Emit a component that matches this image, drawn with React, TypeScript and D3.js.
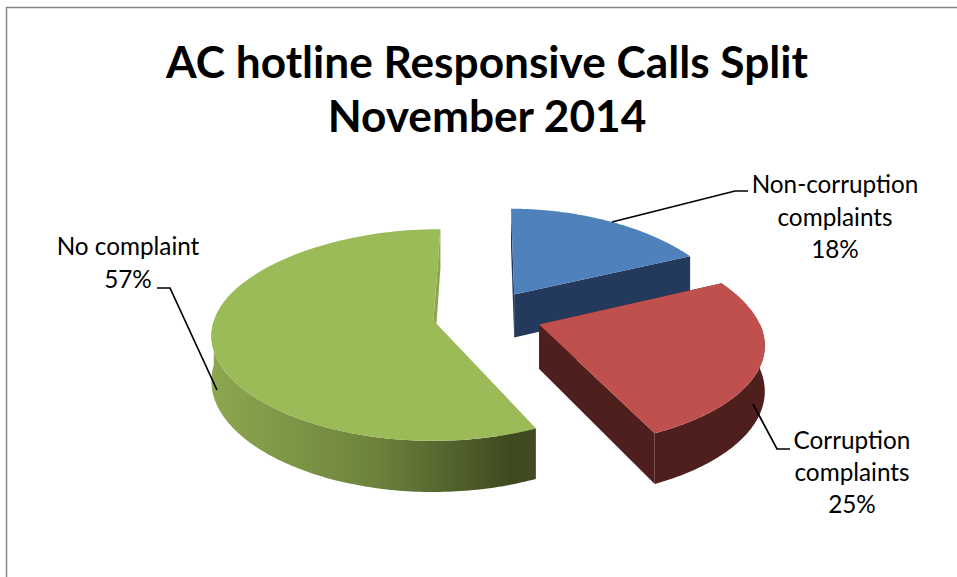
import React from "react";
import * as d3 from "d3";

// Call split for November 2014
const categories = ["Non-corruption complaints", "Corruption complaints", "No complaint"];
const shares = [18, 25, 57];
const topColors = ["#4f81bd", "#c0504d", "#9bbb59"];
const wallColors = ["#243a5c", "#4f1f1e", "#8ca64e"];
const titleLines = ["AC hotline Responsive Calls Split", "November 2014"];

// Camera and pie body
const W = 957;
const H = 577;
const FIRST_SLICE_DEG = 0.6;
const EXPLODE = 0.25;
const VANISH_X = 436.8;
const CENTRE_OFFSET_X = 50;
const BACK_DRIFT_X = 5;
const CENTRE_Y = 315.5;
const DEPTH = 44;
const DEPTH_DRAW_ORDER = [0, 2, 1];

const xScale = d3.scaleLinear().domain([-1, 1]).range([-218, 218]);
const yScale = d3.scaleLinear().domain([-1, 1]).range([102.5, -102.5]);

type Pt = [number, number];

// World point on the pie plane (x right, y away from viewer), z = 0 top, 1 bottom
function project(x: number, y: number, z: number): Pt {
  const wy = 1 + 0.133 * y;
  const wx = 1 + 0.15 * y + 0.03 * y * y;
  const back = Math.max(y, 0);
  return [
    VANISH_X + (CENTRE_OFFSET_X + xScale(x)) / wx + BACK_DRIFT_X * back * back,
    CENTRE_Y + (yScale(y) + DEPTH * z) / wy,
  ];
}

const pieLayout = d3
  .pie<number>()
  .sort(null)
  .startAngle((FIRST_SLICE_DEG * Math.PI) / 180)
  .endAngle(((FIRST_SLICE_DEG + 360) * Math.PI) / 180);

const toPath = d3.line<Pt>();

function sliceShapes(start: number, end: number) {
  const mid = (start + end) / 2;
  const ox = EXPLODE * Math.sin(mid);
  const oy = EXPLODE * Math.cos(mid);
  const rim = (from: number, to: number, z: number) =>
    d3.range(0, 121).map((i) => {
      const a = from + ((to - from) * i) / 120;
      return project(ox + Math.sin(a), oy + Math.cos(a), z);
    });
  const apexTop = project(ox, oy, 0);
  const apexBottom = project(ox, oy, 1);
  const topRim = rim(start, end, 0);
  const bottomRim = rim(start, end, 1);
  // Only the front half of the rim faces the viewer
  const frontFrom = Math.max(start, Math.PI / 2);
  const frontTo = Math.min(end, (3 * Math.PI) / 2);
  const outer =
    frontTo > frontFrom
      ? toPath([...rim(frontFrom, frontTo, 0), ...rim(frontFrom, frontTo, 1).reverse()])! + "Z"
      : null;
  return {
    top: toPath([apexTop, ...topRim])! + "Z",
    outer,
    startWall: toPath([apexTop, topRim[0], bottomRim[0], apexBottom])! + "Z",
    endWall: toPath([apexTop, topRim[120], bottomRim[120], apexBottom])! + "Z",
  };
}

// Label text and leader polylines
const labelLines = [
  { lines: ["Non-corruption", "complaints", "18%"], x: 835, y: 193, step: 32.5 },
  { lines: ["Corruption", "complaints", "25%"], x: 852, y: 449, step: 32 },
  { lines: ["No complaint", "57%"], x: 128, y: 255, step: 33 },
];
const leaders: Pt[][] = [
  [[612, 222], [735, 191], [748, 191]],
  [[753, 404], [777, 449], [790, 449]],
  [[217, 390], [170, 288], [157, 288]],
];

const FONT = "Lato, Carlito, sans-serif";

export default function App() {
  const arcs = pieLayout(shares);
  return (
    <svg
      width={W}
      height={H}
      viewBox={`0 0 ${W} ${H}`}
      style={{ position: "absolute", left: 0, top: 0, display: "block", background: "#fff" }}
    >
      <defs>
        <linearGradient id="green-side" gradientUnits="userSpaceOnUse" x1={215} x2={535} y1={0} y2={0}>
          <stop offset="0" stopColor="#8ca64e" />
          <stop offset="0.5" stopColor="#6d833d" />
          <stop offset="0.92" stopColor="#3f4a20" />
          <stop offset="1" stopColor="#3f4a20" />
        </linearGradient>
      </defs>
      <path d="M957,7.5H6.5V577" fill="none" stroke="#868686" strokeWidth={1.5} />

      {titleLines.map((t, i) => (
        <text
          key={t}
          x={487}
          y={78 + i * 54}
          textAnchor="middle"
          fontFamily={FONT}
          fontWeight={700}
          fontSize={44.2}
          fill="#000"
        >
          {t}
        </text>
      ))}

      {DEPTH_DRAW_ORDER.map((idx) => {
        const a = arcs[idx];
        const s = sliceShapes(a.startAngle, a.endAngle);
        const side = idx === 2 ? "url(#green-side)" : wallColors[idx];
        return (
          <g key={categories[idx]}>
            <path d={s.startWall} fill={wallColors[idx]} />
            <path d={s.endWall} fill={wallColors[idx]} />
            {s.outer && <path d={s.outer} fill={side} />}
            <path d={s.top} fill={topColors[idx]} />
          </g>
        );
      })}

      {leaders.map((pts, i) => (
        <path key={i} d={toPath(pts)!} fill="none" stroke="#000" strokeWidth={1.7} />
      ))}

      {labelLines.map((l) =>
        l.lines.map((t, j) => (
          <text
            key={l.x + t}
            x={l.x}
            y={l.y + j * l.step}
            textAnchor="middle"
            fontFamily={FONT}
            fontSize={24.3}
            fill="#000"
          >
            {t}
          </text>
        ))
      )}
    </svg>
  );
}
